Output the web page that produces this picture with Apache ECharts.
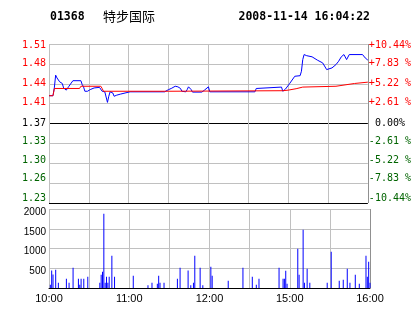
<!DOCTYPE html>
<html><head><meta charset="utf-8">
<script src="https://cdn.jsdelivr.net/npm/echarts@6/dist/echarts.min.js"></script>
<style>html,body{margin:0;padding:0;background:#fff}#c{width:414px;height:314px}</style>
</head><body><div id="c"></div>
<script>
const stockCode = '01368';
const stockName = '特步国际';
const stamp = '2008-11-14 16:04:22';
const prevClose = 1.37;
const stepPct = 2.61;
const priceLabels = ['1.23','1.26','1.30','1.33','1.37','1.41','1.44','1.48','1.51'];
const pctLabels = ['-10.44%','-7.83 %','-5.22 %','-2.61 %',' 0.00%','+2.61 %','+5.22 %','+7.83 %','+10.44%'];
const volTicks = [500, 1000, 1500, 2000];
const timeLabels = ['10:00','11:00','12:00','15:00','16:00'];

const priceTimes = ['10:00','10:03','10:04','10:05','10:06','10:08','10:10','10:11','10:13','10:14','10:15','10:18','10:24','10:25','10:26','10:27','10:28','10:29','10:31','10:34','10:38','10:39','10:40','10:41','10:42','10:43','10:44','10:45','10:46','10:48','10:49','10:51','10:54','11:01','11:27','11:28','11:30','11:32','11:35','11:37','11:39','11:40','11:43','11:44','11:45','11:47','11:48','11:55','11:57','11:58','12:00','12:01','14:35','14:36','14:37','14:55','14:56','14:58','15:01','15:05','15:06','15:09','15:10','15:11','15:12','15:14','15:18','15:22','15:26','15:29','15:30','15:33','15:36','15:38','15:40','15:42','15:44','15:46','15:56','15:58','16:00'];
const prices = [1.420,1.420,1.434,1.457,1.452,1.445,1.442,1.434,1.430,1.433,1.437,1.447,1.447,1.440,1.436,1.428,1.426,1.428,1.431,1.434,1.435,1.434,1.428,1.431,1.427,1.425,1.408,1.419,1.427,1.425,1.419,1.421,1.423,1.427,1.427,1.428,1.431,1.433,1.437,1.436,1.433,1.428,1.427,1.431,1.436,1.431,1.4265,1.4265,1.430,1.433,1.436,1.427,1.427,1.433,1.4355,1.4355,1.428,1.432,1.4415,1.455,1.456,1.456,1.464,1.485,1.494,1.492,1.490,1.484,1.479,1.467,1.466,1.470,1.476,1.482,1.490,1.494,1.485,1.494,1.494,1.488,1.484];

const avgTimes = ['10:00','10:03','10:04','10:23','10:24','10:39','10:40','10:41','11:30','11:31','14:56','15:00','15:06','15:11','15:36','15:50','16:00'];
const avgPrices = [1.420,1.420,1.433,1.433,1.437,1.437,1.433,1.428,1.428,1.429,1.429,1.430,1.4326,1.4355,1.437,1.442,1.4444];

const volTimes = ['10:01','10:02','10:03','10:05','10:07','10:13','10:15','10:18','10:22','10:23','10:24','10:26','10:29','10:38','10:39','10:40','10:41','10:42','10:43','10:44','10:45','10:47','10:49','11:03','11:14','11:17','11:21','11:22','11:23','11:26','11:36','11:38','11:44','11:46','11:48','11:49','11:53','11:55','12:01','12:02','12:14','12:25','14:32','14:35','14:37','14:52','14:55','14:56','14:57','14:58','15:06','15:07','15:10','15:11','15:13','15:15','15:28','15:31','15:37','15:40','15:43','15:45','15:49','15:52','15:57','15:58','15:59','16:00'];
const volumes = [80,440,340,460,130,235,130,510,235,85,235,235,285,135,335,410,1880,135,285,130,285,817,285,310,70,134,110,310,134,134,235,513,440,70,134,817,513,70,540,310,185,513,285,84,235,513,235,235,438,109,994,336,1475,134,488,134,134,918,185,210,488,134,336,109,817,286,665,134];

function idx(t){const p=t.split(':').map(Number);const mm=p[0]*60+p[1];return mm<=750?mm-600:mm-870+150;}
function timeOf(v){const mm=v<=150?600+v:870+v-150;const h=Math.floor(mm/60),m=mm%60;return h+':'+(m<10?'0':'')+m;}
function toStep(p){return (p/prevClose-1)*100/stepPct;}

const GRAY='#c0c0c0', RED='#ff0000', GREEN='#006400';
const mono='"DejaVu Sans Mono"';
// small vertical nudges of the price-axis labels as in the original
const labelShift=[-5,-5,-3,-1.5,0,-1.5,-0.5,0,1];
const rich={};
labelShift.forEach(function(s,i){
  const col=i>4?RED:(i===4?'#000':GREEN);
  rich['s'+i]={color:col,fontFamily:mono,fontSize:10,padding:s<0?[0,0,-2*s,0]:[2*s,0,0,0]};
});
const vrich={v:{color:'#000',fontFamily:'"Liberation Sans"',fontSize:10,padding:[6,0,0,0]}};

const chart=echarts.init(document.getElementById('c'),null,{renderer:'canvas'});
const xCommon={type:'value',min:0,max:240,interval:30,axisTick:{show:false},
  splitLine:{show:true,lineStyle:{color:[GRAY,GRAY,GRAY,GRAY,GRAY,GRAY,GRAY,GRAY,'#909090'],width:1}}};
chart.setOption({
  animation:false,
  backgroundColor:'#fff',
  grid:[{left:49,top:44,width:321,height:159},{left:49,top:209,width:321,height:79}],
  graphic:[
    {type:'text',x:50,y:17,style:{text:stockCode,font:'bold 11.5px '+mono,fill:'#000',verticalAlign:'middle'}},
    {type:'text',x:103,y:16,style:{text:stockName,font:'13px "Noto Sans CJK SC"',fill:'#000',verticalAlign:'middle'}},
    {type:'text',x:370,y:17,style:{text:stamp,font:'bold 11.5px '+mono,fill:'#000',align:'right',verticalAlign:'middle'}}
  ],
  xAxis:[
    Object.assign({},xCommon,{gridIndex:0,axisLine:{show:false},axisLabel:{show:false}}),
    Object.assign({},xCommon,{gridIndex:1,axisLine:{show:true,onZero:false,lineStyle:{color:'#000',width:1}},
      axisLabel:{show:true,margin:5,color:'#000',fontFamily:'"Liberation Sans"',fontSize:11,showMinLabel:true,showMaxLabel:true,
        formatter:function(v){const t=timeOf(v);return timeLabels.indexOf(t)>=0?t:'';}}})
  ],
  yAxis:[
    {type:'value',gridIndex:0,min:-4,max:4,interval:1,axisLine:{show:false},axisTick:{show:false},
      splitLine:{show:true,lineStyle:{width:1,color:['#000',GRAY,GRAY,GRAY,'#000',GRAY,GRAY,GRAY,GRAY]}},
      axisLabel:{margin:3,rich:rich,formatter:function(v){const i=Math.round(v)+4;return '{s'+i+'|'+priceLabels[i]+'}';}}},
    {type:'value',gridIndex:0,position:'right',min:-4,max:4,interval:1,axisLine:{show:false},axisTick:{show:false},splitLine:{show:false},
      axisLabel:{margin:1,align:'left',rich:rich,formatter:function(v){const i=Math.round(v)+4;return '{s'+i+'|'+pctLabels[i]+'}';}}},
    {type:'value',gridIndex:1,min:0,max:2000,interval:500,axisLine:{show:false},axisTick:{show:false},
      splitLine:{show:true,lineStyle:{color:GRAY,width:1}},
      axisLabel:{margin:3,rich:vrich,
        formatter:function(v){return volTicks.indexOf(v)>=0?'{v|'+v+'}':'';}}}
  ],
  series:[
    {type:'line',xAxisIndex:0,yAxisIndex:0,symbol:'none',lineStyle:{color:'#0000ff',width:1},
      data:priceTimes.map((t,i)=>[idx(t),toStep(prices[i])])},
    {type:'line',xAxisIndex:0,yAxisIndex:0,symbol:'none',lineStyle:{color:RED,width:1},
      data:avgTimes.map((t,i)=>[idx(t),toStep(avgPrices[i])])},
    {type:'bar',xAxisIndex:1,yAxisIndex:2,barWidth:1,itemStyle:{color:'#0000ff'},
      data:volTimes.map((t,i)=>[idx(t),volumes[i]])}
  ]
});
</script></body></html>
